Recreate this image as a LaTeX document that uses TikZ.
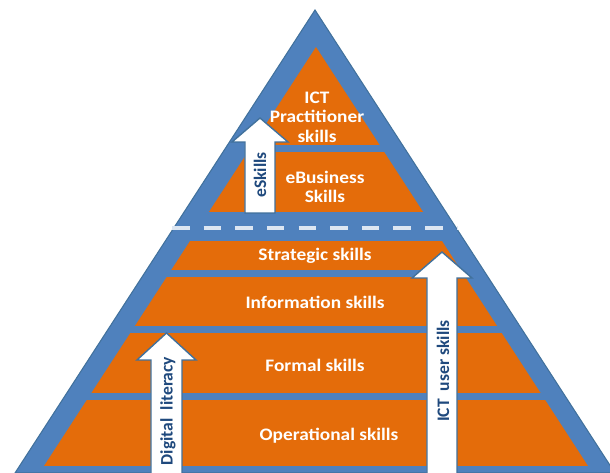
\documentclass[tikz,border=0pt]{standalone}
\usepackage{fontspec}
\setmainfont{Carlito}
\definecolor{pyrblue}{HTML}{4F81BD}
\definecolor{pyredge}{HTML}{41719C}
\definecolor{pyrorange}{HTML}{E46C0A}
\definecolor{arrtext}{HTML}{1F497D}
\definecolor{dashcol}{HTML}{DCE6F2}
\begin{document}
\begin{tikzpicture}[x=0.02cm,y=-0.02cm,
  band/.style={fill=pyrorange},
  lbl/.style={text=white,font=\fontsize{10}{11}\selectfont\bfseries,align=center,inner sep=0pt,xscale=1.1},
  arrlbl/.style={text=arrtext,font=\fontsize{10}{11}\selectfont\bfseries,rotate=90,inner sep=0pt},
  bigarrow/.style={fill=white,draw=pyredge,line width=0.8pt,line join=miter},
  dashline/.style={draw=dashcol,line width=1.8pt,dash pattern=on 10 off 8}]
\useasboundingbox (0,0) rectangle (610,473);
\clip (0,0) rectangle (610,473);
% outer blue triangle
\fill[pyrblue,draw=pyredge,line width=0.6pt] (315,10) -- (615,473) -- (15,473) -- cycle;
% orange bands clipped to the inner triangle
\begin{scope}
  \clip (316,47) -- (588,466) -- (44,466) -- cycle;
  \fill[band] (0,47) rectangle (610,145);
  \fill[band] (0,152) rectangle (610,212);
  \fill[band] (0,241) rectangle (610,270);
  \fill[band] (0,277) rectangle (610,326);
  \fill[band] (0,333) rectangle (610,393);
  \fill[band] (0,400) rectangle (610,466);
\end{scope}
% dashed separator
\coordinate (dl) at (172,228);
\coordinate (dr) at (458,228);
\draw[dashline] (dl) -- (dr);
% arrows
\draw[bigarrow] (245,213) -- (245,142) -- (232,142) -- (260,118) -- (288,142) -- (275,142) -- (275,213) -- cycle;
\draw[bigarrow] (151,480) -- (151,360) -- (137,360) -- (166.5,333) -- (196,360) -- (182,360) -- (182,480) -- cycle;
\draw[bigarrow] (427,480) -- (427,278) -- (412,278) -- (442,252) -- (472,278) -- (457,278) -- (457,480) -- cycle;
% labels
\node[lbl] (prac) at (317,117) {ICT\\Practitioner\\skills};
\node[lbl] (ebus) at (325,187) {eBusiness\\Skills};
\node[lbl] (strat) at (315,256) {Strategic skills};
\node[lbl] (info) at (315,302) {Information skills};
\node[lbl] (formal) at (315,365) {Formal skills};
\node[lbl] (oper) at (329,436) {Operational skills};
\node[arrlbl] (esk) at (260,175) {eSkills};
\node[arrlbl] (dig) at (168,411) {Digital\ \ literacy};
\node[arrlbl] (ictu) at (443,371) {ICT\ \ user skills};
\end{tikzpicture}
\end{document}
